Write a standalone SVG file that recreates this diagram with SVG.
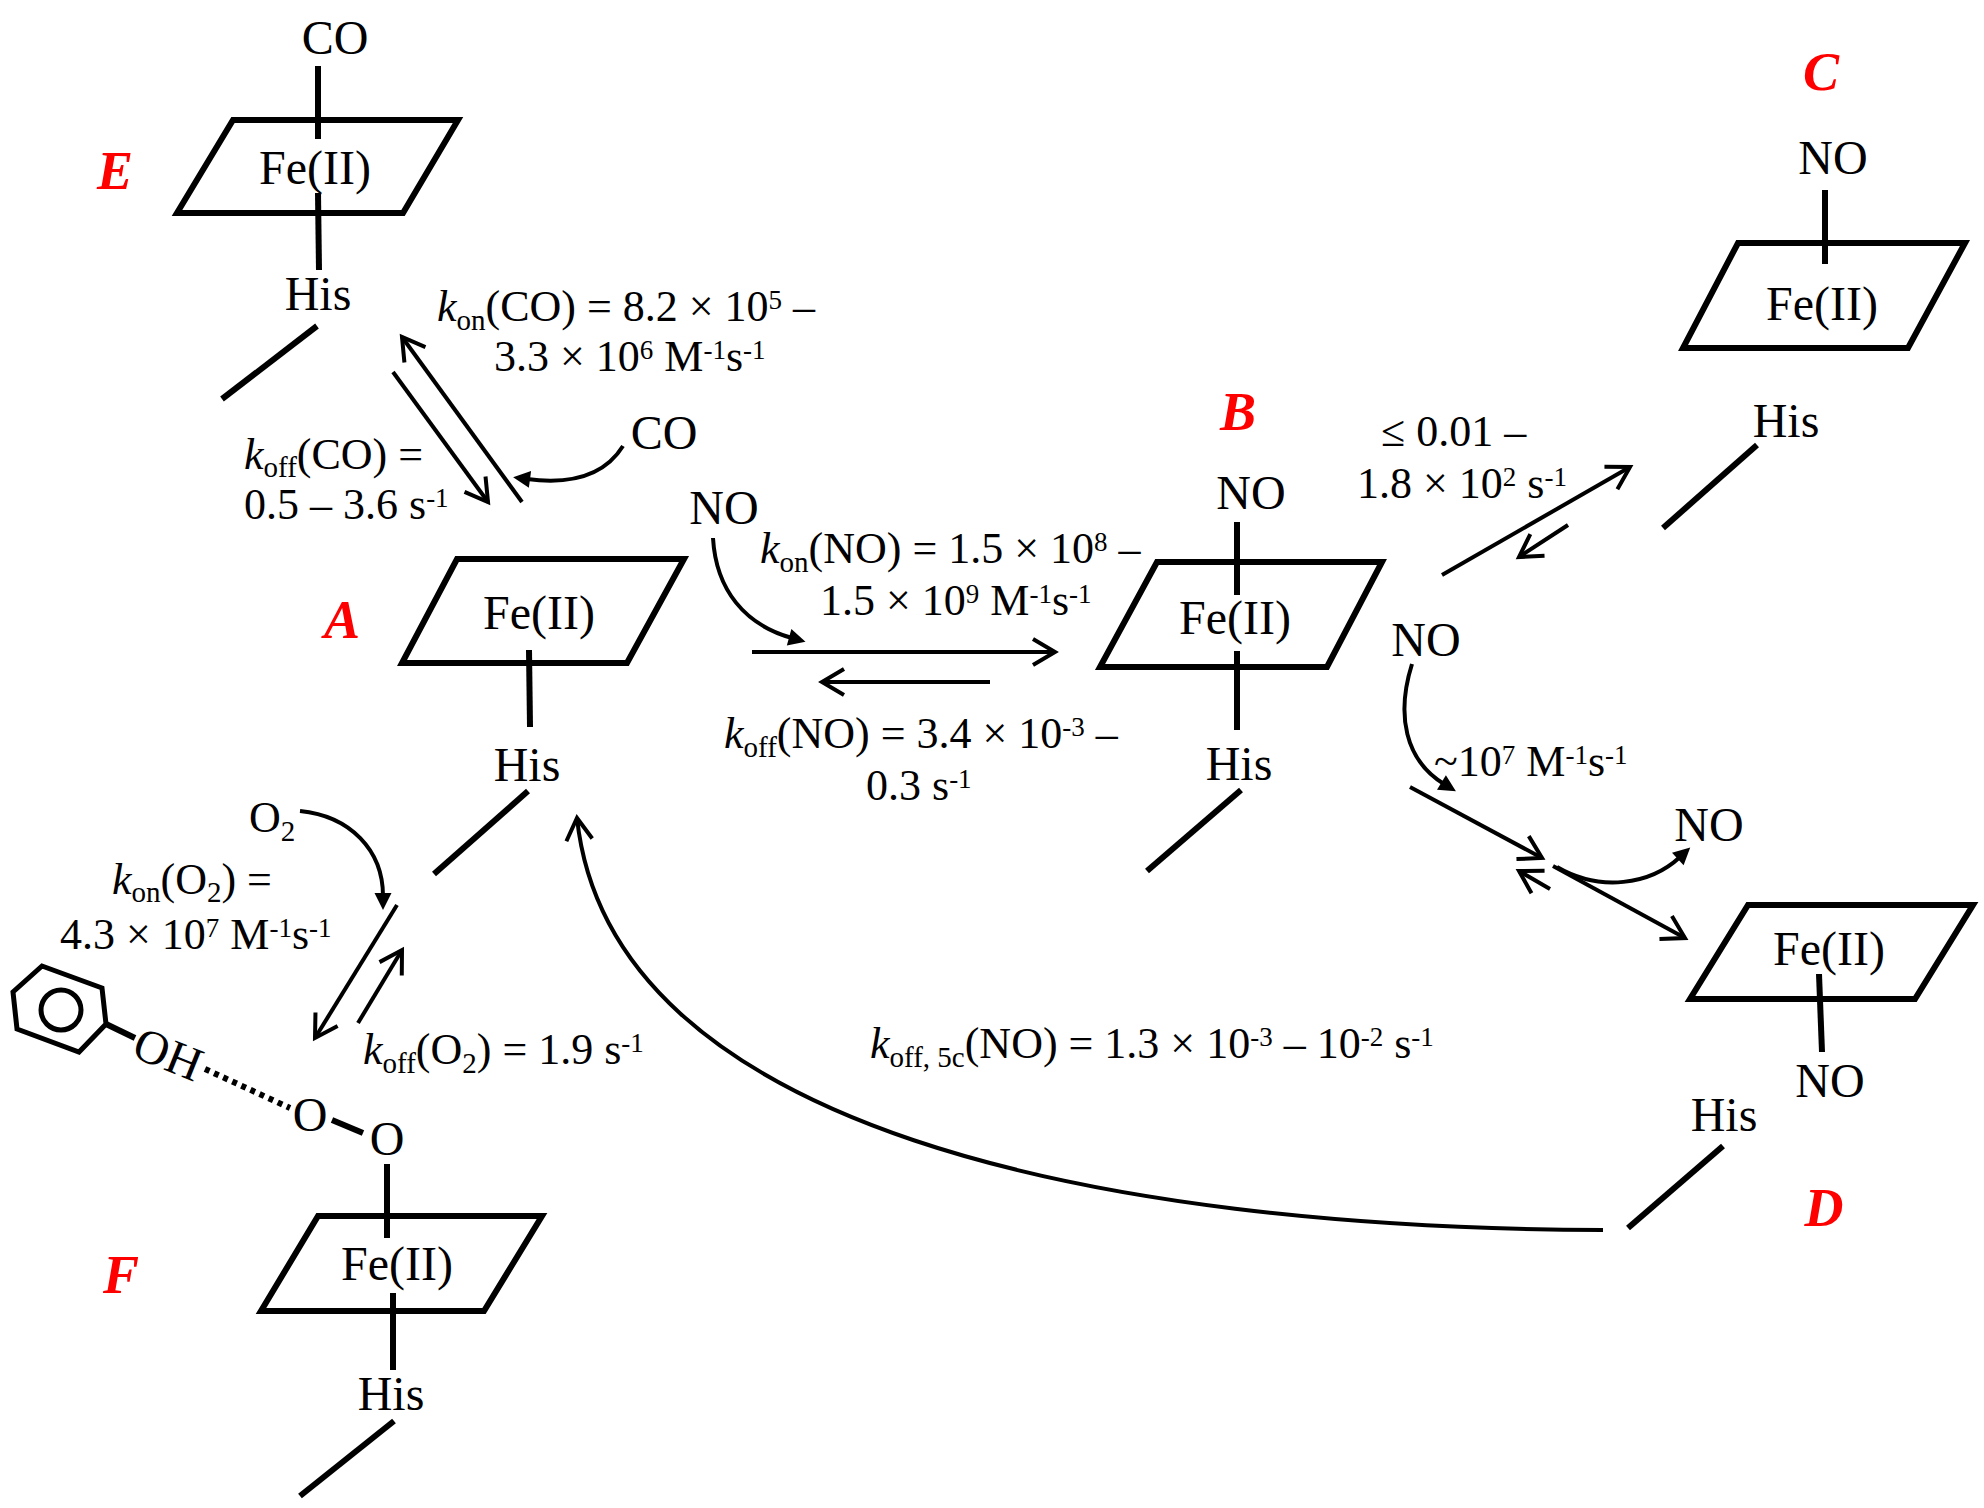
<svg xmlns="http://www.w3.org/2000/svg" width="1984" height="1508" viewBox="0 0 1984 1508">
<style>
text { font-family: "Liberation Serif", "Times New Roman", serif; fill: #000; }
.chem { font-size: 48px; }
.rt { font-size: 44px; }
.sb { font-size: 29px; }
.sp { font-size: 27px; }
.it { font-style: italic; }
.lbl { font-size: 54px; font-weight: bold; font-style: italic; fill: #FF0000; }
.plane { fill: none; stroke: #000; stroke-width: 6; stroke-linejoin: miter; }
.bond { fill: none; stroke: #000; stroke-width: 6; }
.arr { fill: none; stroke: #000; stroke-width: 4; }
.hb { fill: none; stroke: #000; stroke-width: 6; stroke-dasharray: 5 5; }
</style>
<defs>
<marker id="open" markerUnits="userSpaceOnUse" viewBox="-30 -20 40 40" refX="0" refY="0" markerWidth="40" markerHeight="40" orient="auto">
<path d="M-22,-13 L0,0 L-22,13" fill="none" stroke="#000" stroke-width="4"/>
</marker>
<marker id="solid" markerUnits="userSpaceOnUse" viewBox="-10 -12 30 24" refX="0" refY="0" markerWidth="30" markerHeight="24" orient="auto">
<path d="M14,0 L-3,-8.5 L-3,8.5 Z" fill="#000"/>
</marker>
</defs>
<rect x="0" y="0" width="1984" height="1508" fill="#fff"/>

<g id="node-E">
<text class="chem" x="335" y="54" text-anchor="middle">CO</text>
<line class="bond" x1="318" y1="66" x2="318" y2="139"/>
<polygon class="plane" points="233,120 458,120 403,213 177,213"/>
<text class="chem" x="315" y="184" text-anchor="middle">Fe(II)</text>
<line class="bond" x1="318" y1="193" x2="319" y2="270"/>
<text class="chem" x="318" y="310" text-anchor="middle">His</text>
<line class="bond" x1="317" y1="326" x2="222" y2="399"/>
<text class="lbl" x="115" y="189" text-anchor="middle">E</text>
</g>

<g id="node-A">
<polygon class="plane" points="457,559 684,559 627,663 402,663"/>
<text class="chem" x="539" y="629" text-anchor="middle">Fe(II)</text>
<line class="bond" x1="529" y1="650" x2="530" y2="727"/>
<text class="chem" x="527" y="781" text-anchor="middle">His</text>
<line class="bond" x1="528" y1="791" x2="434" y2="874"/>
<text class="lbl" x="342" y="638" text-anchor="middle">A</text>
</g>

<g id="node-B">
<text class="chem" x="1251" y="509" text-anchor="middle">NO</text>
<line class="bond" x1="1237" y1="522" x2="1237" y2="595"/>
<polygon class="plane" points="1157,562 1382,562 1327,667 1100,667"/>
<text class="chem" x="1235" y="634" text-anchor="middle">Fe(II)</text>
<line class="bond" x1="1237" y1="651" x2="1237" y2="730"/>
<text class="chem" x="1239" y="780" text-anchor="middle">His</text>
<line class="bond" x1="1241" y1="790" x2="1147" y2="871"/>
<text class="lbl" x="1238" y="430" text-anchor="middle">B</text>
</g>

<g id="node-C">
<text class="lbl" x="1821" y="90" text-anchor="middle">C</text>
<text class="chem" x="1833" y="174" text-anchor="middle">NO</text>
<line class="bond" x1="1825" y1="190" x2="1825" y2="264"/>
<polygon class="plane" points="1738,243 1965,243 1908,348 1683,348"/>
<text class="chem" x="1822" y="320" text-anchor="middle">Fe(II)</text>
<text class="chem" x="1786" y="437" text-anchor="middle">His</text>
<line class="bond" x1="1757" y1="445" x2="1663" y2="528"/>
</g>

<g id="node-D">
<polygon class="plane" points="1748,905 1973,905 1915,999 1690,999"/>
<text class="chem" x="1829" y="965" text-anchor="middle">Fe(II)</text>
<line class="bond" x1="1819" y1="974" x2="1822" y2="1052"/>
<text class="chem" x="1830" y="1097" text-anchor="middle">NO</text>
<text class="chem" x="1724" y="1131" text-anchor="middle">His</text>
<line class="bond" x1="1723" y1="1146" x2="1628" y2="1228"/>
<text class="lbl" x="1824" y="1226" text-anchor="middle">D</text>
</g>

<g id="node-F">
<text class="chem" x="310" y="1131" text-anchor="middle">O</text>
<line class="bond" x1="332" y1="1120" x2="363" y2="1133"/>
<text class="chem" x="387" y="1155" text-anchor="middle">O</text>
<line class="bond" x1="387" y1="1164" x2="387" y2="1238"/>
<polygon class="plane" points="318,1216 542,1216 484,1311 261,1311"/>
<text class="chem" x="397" y="1280" text-anchor="middle">Fe(II)</text>
<line class="bond" x1="393" y1="1293" x2="393" y2="1370"/>
<text class="chem" x="391" y="1410" text-anchor="middle">His</text>
<line class="bond" x1="394" y1="1421" x2="300" y2="1496"/>
<text class="lbl" x="121" y="1293" text-anchor="middle">F</text>
</g>

<g id="phenol">
<polygon points="42,966 102,988 106,1024 79,1052 17,1029 13,992" fill="none" stroke="#000" stroke-width="5" stroke-linejoin="miter"/>
<circle cx="61" cy="1010" r="20" fill="none" stroke="#000" stroke-width="5"/>
<line class="bond" x1="106" y1="1024" x2="135" y2="1038"/>
<text class="chem" transform="translate(130,1056) rotate(22)">OH</text>
<line class="hb" x1="205" y1="1069" x2="290" y2="1108"/>
</g>

<g id="connectors">
<path class="arr" d="M522,502 L402,337" marker-end="url(#open)"/>
<path class="arr" d="M393,372 L488,502" marker-end="url(#open)"/>
<path class="arr" d="M623,446 C608,470 580,486 527,479" marker-end="url(#solid)"/>
<path class="arr" d="M713,538 C716,590 745,625 792,638" marker-end="url(#solid)"/>
<path class="arr" d="M752,652 L1055,652" marker-end="url(#open)"/>
<path class="arr" d="M990,682 L822,682" marker-end="url(#open)"/>
<path class="arr" d="M1442,575 L1630,467" marker-end="url(#open)"/>
<path class="arr" d="M1568,525 L1519,557" marker-end="url(#open)"/>
<path class="arr" d="M1412,664 C1396,715 1405,760 1444,784" marker-end="url(#solid)"/>
<path class="arr" d="M1410,787 L1542,858" marker-end="url(#open)"/>
<path class="arr" d="M1550,889 L1519,871" marker-end="url(#open)"/>
<path class="arr" d="M1553,866 L1685,938" marker-end="url(#open)"/>
<path class="arr" d="M1557,867 C1600,892 1650,885 1680,857" marker-end="url(#solid)"/>
<path class="arr" d="M300,811 C350,816 383,850 383,896" marker-end="url(#solid)"/>
<path class="arr" d="M397,905 L315,1038" marker-end="url(#open)"/>
<path class="arr" d="M358,1023 L402,950" marker-end="url(#open)"/>
<path class="arr" d="M1603,1230 C1100,1228 610,1130 577,818" marker-end="url(#open)"/>
</g>

<g id="rate-labels">
<text class="chem" x="664" y="449" text-anchor="middle">CO</text>
<text class="chem" x="724" y="524" text-anchor="middle">NO</text>
<text class="chem" x="1426" y="656" text-anchor="middle">NO</text>
<text class="chem" x="1709" y="841" text-anchor="middle">NO</text>
<text class="rt" x="249" y="832">O<tspan class="sb" dy="9">2</tspan></text>
<text class="rt" x="437" y="321"><tspan class="it">k</tspan><tspan class="sb" dy="9">on</tspan><tspan dy="-9">(CO) = 8.2 × 10</tspan><tspan class="sp" dy="-12">5</tspan><tspan dy="12"> –</tspan></text>
<text class="rt" x="494" y="371">3.3 × 10<tspan class="sp" dy="-12">6</tspan><tspan dy="12"> M</tspan><tspan class="sp" dy="-12">-1</tspan><tspan dy="12">s</tspan><tspan class="sp" dy="-12">-1</tspan></text>
<text class="rt" x="244" y="469"><tspan class="it">k</tspan><tspan class="sb" dy="8">off</tspan><tspan dy="-8">(CO) =</tspan></text>
<text class="rt" x="244" y="519">0.5 – 3.6 s<tspan class="sp" dy="-12">-1</tspan></text>
<text class="rt" x="760" y="563"><tspan class="it">k</tspan><tspan class="sb" dy="9">on</tspan><tspan dy="-9">(NO) = 1.5 × 10</tspan><tspan class="sp" dy="-12">8</tspan><tspan dy="12"> –</tspan></text>
<text class="rt" x="820" y="615">1.5 × 10<tspan class="sp" dy="-12">9</tspan><tspan dy="12"> M</tspan><tspan class="sp" dy="-12">-1</tspan><tspan dy="12">s</tspan><tspan class="sp" dy="-12">-1</tspan></text>
<text class="rt" x="724" y="748"><tspan class="it">k</tspan><tspan class="sb" dy="9">off</tspan><tspan dy="-9">(NO) = 3.4 × 10</tspan><tspan class="sp" dy="-12">-3</tspan><tspan dy="12"> –</tspan></text>
<text class="rt" x="866" y="800">0.3 s<tspan class="sp" dy="-12">-1</tspan></text>
<text class="rt" x="1381" y="446">≤ 0.01 –</text>
<text class="rt" x="1357" y="498">1.8 × 10<tspan class="sp" dy="-12">2</tspan><tspan dy="12"> s</tspan><tspan class="sp" dy="-12">-1</tspan></text>
<text class="rt" x="1434" y="776">~10<tspan class="sp" dy="-12">7</tspan><tspan dy="12"> M</tspan><tspan class="sp" dy="-12">-1</tspan><tspan dy="12">s</tspan><tspan class="sp" dy="-12">-1</tspan></text>
<text class="rt" x="870" y="1058"><tspan class="it">k</tspan><tspan class="sb" dy="9">off, 5c</tspan><tspan dy="-9">(NO) = 1.3 × 10</tspan><tspan class="sp" dy="-12">-3</tspan><tspan dy="12"> – 10</tspan><tspan class="sp" dy="-12">-2</tspan><tspan dy="12"> s</tspan><tspan class="sp" dy="-12">-1</tspan></text>
<text class="rt" x="112" y="894"><tspan class="it">k</tspan><tspan class="sb" dy="8">on</tspan><tspan dy="-8">(O</tspan><tspan class="sb" dy="8">2</tspan><tspan dy="-8">) =</tspan></text>
<text class="rt" x="60" y="949">4.3 × 10<tspan class="sp" dy="-12">7</tspan><tspan dy="12"> M</tspan><tspan class="sp" dy="-12">-1</tspan><tspan dy="12">s</tspan><tspan class="sp" dy="-12">-1</tspan></text>
<text class="rt" x="363" y="1064"><tspan class="it">k</tspan><tspan class="sb" dy="9">off</tspan><tspan dy="-9">(O</tspan><tspan class="sb" dy="9">2</tspan><tspan dy="-9">) = 1.9 s</tspan><tspan class="sp" dy="-12">-1</tspan></text>
</g>
</svg>
